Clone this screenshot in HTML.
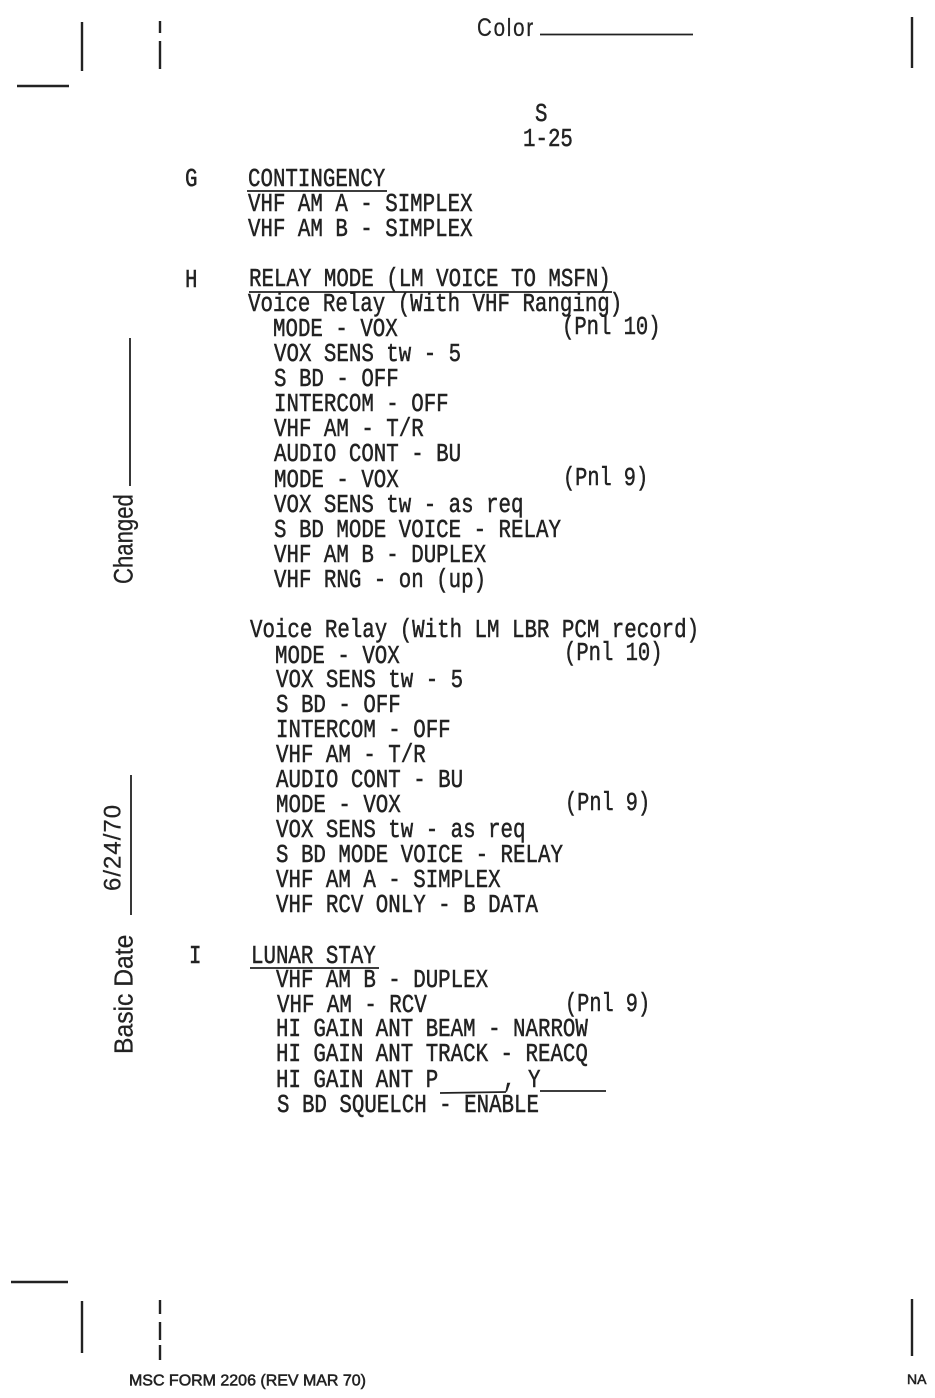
<!DOCTYPE html>
<html>
<head>
<meta charset="utf-8">
<style>
html,body{margin:0;padding:0;background:#fff;width:935px;height:1398px;overflow:hidden}
svg{display:block}
.t{font-family:"Liberation Mono",monospace;font-size:26px;fill:#222;stroke:#222;stroke-width:.5px}
.s{font-family:"Liberation Sans",sans-serif;fill:#222;stroke:#222;stroke-width:.25px}
</style>
</head>
<body>
<svg width="935" height="1398" viewBox="0 0 935 1398" xmlns="http://www.w3.org/2000/svg">
<g stroke="#222" stroke-width="2.4" fill="none">
<path d="M82 22V71M160 21V33M160 41V69M912 17V68M17 86H69M11 1282H68M82 1301V1353M160 1300V1314M160 1322V1340M160 1345V1360M912 1299V1356"/>
<path d="M540 34.5H693" stroke-width="1.8"/>
<path d="M247 191H387M249 292H612M250 968H379M440 1093L506 1092M540 1091H606" stroke-width="1.8"/>
<path d="M130 338V486M131 775V915" stroke-width="1.8"/>
</g>
<text class="s" transform="matrix(.82 0 0 1 477 36)" font-size="25" letter-spacing="2.2">Color</text>
<g transform="translate(0 -1)">
<text class="t" transform="matrix(.8 0 0 1 535 122)">S</text>
<text class="t" transform="matrix(.8 0 0 1 523 147)">1-25</text>

<text class="t" transform="matrix(.8 0 0 1 185 187)">G</text>
<text class="t" transform="matrix(.8 0 0 1 248 187)">CONTINGENCY</text>
<text class="t" transform="matrix(.8 0 0 1 248 212)">VHF AM A - SIMPLEX</text>
<text class="t" transform="matrix(.8 0 0 1 248 237)">VHF AM B - SIMPLEX</text>

<text class="t" transform="matrix(.8 0 0 1 185 288)">H</text>
<text class="t" transform="matrix(.8 0 0 1 249 287)">RELAY MODE (LM VOICE TO MSFN)</text>
<text class="t" transform="matrix(.8 0 0 1 248 312)">Voice Relay (With VHF Ranging)</text>
<text class="t" transform="matrix(.8 0 0 1 273 337)">MODE - VOX</text>
<text class="t" transform="matrix(.79 0 0 1 562 335)">(Pnl 10)</text>
<text class="t" transform="matrix(.8 0 0 1 274 362)">VOX SENS tw - 5</text>
<text class="t" transform="matrix(.8 0 0 1 274 387)">S BD - OFF</text>
<text class="t" transform="matrix(.8 0 0 1 274 412)">INTERCOM - OFF</text>
<text class="t" transform="matrix(.8 0 0 1 274 437)">VHF AM - T/R</text>
<text class="t" transform="matrix(.8 0 0 1 274 462)">AUDIO CONT - BU</text>
<text class="t" transform="matrix(.8 0 0 1 274 488)">MODE - VOX</text>
<text class="t" transform="matrix(.78 0 0 1 563 486)">(Pnl 9)</text>
<text class="t" transform="matrix(.8 0 0 1 274 513)">VOX SENS tw - as req</text>
<text class="t" transform="matrix(.8 0 0 1 274 538)">S BD MODE VOICE - RELAY</text>
<text class="t" transform="matrix(.8 0 0 1 274 563)">VHF AM B - DUPLEX</text>
<text class="t" transform="matrix(.8 0 0 1 274 588)">VHF RNG - on (up)</text>

<text class="t" transform="matrix(.8 0 0 1 250 638)">Voice Relay (With LM LBR PCM record)</text>
<text class="t" transform="matrix(.8 0 0 1 275 664)">MODE - VOX</text>
<text class="t" transform="matrix(.79 0 0 1 564 661)">(Pnl 10)</text>
<text class="t" transform="matrix(.8 0 0 1 276 688)">VOX SENS tw - 5</text>
<text class="t" transform="matrix(.8 0 0 1 276 713)">S BD - OFF</text>
<text class="t" transform="matrix(.8 0 0 1 276 738)">INTERCOM - OFF</text>
<text class="t" transform="matrix(.8 0 0 1 276 763)">VHF AM - T/R</text>
<text class="t" transform="matrix(.8 0 0 1 276 788)">AUDIO CONT - BU</text>
<text class="t" transform="matrix(.8 0 0 1 276 813)">MODE - VOX</text>
<text class="t" transform="matrix(.78 0 0 1 565 811)">(Pnl 9)</text>
<text class="t" transform="matrix(.8 0 0 1 276 838)">VOX SENS tw - as req</text>
<text class="t" transform="matrix(.8 0 0 1 276 863)">S BD MODE VOICE - RELAY</text>
<text class="t" transform="matrix(.8 0 0 1 276 888)">VHF AM A - SIMPLEX</text>
<text class="t" transform="matrix(.8 0 0 1 276 913)">VHF RCV ONLY - B DATA</text>

<text class="t" transform="matrix(.8 0 0 1 189 964)">I</text>
<text class="t" transform="matrix(.8 0 0 1 251 964)">LUNAR STAY</text>
<text class="t" transform="matrix(.8 0 0 1 276 988)">VHF AM B - DUPLEX</text>
<text class="t" transform="matrix(.8 0 0 1 277 1013)">VHF AM - RCV</text>
<text class="t" transform="matrix(.78 0 0 1 565 1012)">(Pnl 9)</text>
<text class="t" transform="matrix(.8 0 0 1 276 1037)">HI GAIN ANT BEAM - NARROW</text>
<text class="t" transform="matrix(.8 0 0 1 276 1062)">HI GAIN ANT TRACK - REACQ</text>
<text class="t" transform="matrix(.8 0 0 1 276 1088)">HI GAIN ANT P</text>
<text class="t" transform="matrix(.8 0 0 1 503 1088)">, Y</text>
<text class="t" transform="matrix(.8 0 0 1 277 1113)">S BD SQUELCH - ENABLE</text>
</g>

<text class="s" font-size="27" transform="translate(132.5 584) rotate(-90) scale(.82 1)">Changed</text>
<text class="s" font-size="24" letter-spacing="1" transform="translate(120.5 891) rotate(-90)">6/24/70</text>
<text class="s" font-size="26" transform="translate(132.5 1054) rotate(-90) scale(.95 1)">Basic Date</text>

<text class="s" x="129" y="1385.5" font-size="16" style="stroke-width:.55px" textLength="237" lengthAdjust="spacing">MSC FORM 2206 (REV MAR 70)</text>
<text class="s" x="907" y="1384" font-size="14" style="stroke-width:.55px">NA</text>
</svg>
</body>
</html>
